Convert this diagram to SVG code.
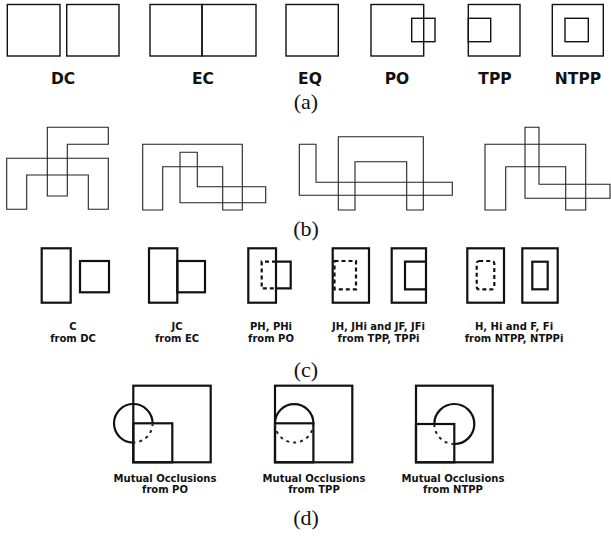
<svg xmlns="http://www.w3.org/2000/svg" width="611" height="538" viewBox="0 0 611 538">
<style>
.a{fill:none;stroke:#111;stroke-width:1.4}
.b{fill:none;stroke:#222;stroke-width:1.1}
.c{fill:none;stroke:#111;stroke-width:2.2}
.dc{fill:none;stroke:#111;stroke-width:2.2;stroke-dasharray:4 3}
.dd{fill:none;stroke:#222;stroke-width:2;stroke-dasharray:3 4}
.la{font-family:"DejaVu Sans",sans-serif;font-weight:bold;font-size:15.5px;fill:#111;text-anchor:middle}
.lc{font-family:"DejaVu Sans",sans-serif;font-weight:bold;font-size:10px;fill:#111;text-anchor:middle}
.cap{font-family:"Liberation Serif",serif;font-size:22px;fill:#111;text-anchor:middle}
</style>
<rect width="611" height="538" fill="#fff"/>
<g id="panel-a">
  <g id="a-DC"><rect class="a" x="7.3" y="4.5" width="52.7" height="51.5"/><rect class="a" x="66.7" y="4.5" width="52.3" height="51.5"/><text class="la" x="63" y="84">DC</text></g>
  <g id="a-EC"><rect class="a" x="150" y="4.5" width="52" height="51.5"/><rect class="a" x="202" y="4.5" width="54" height="51.5"/><text class="la" x="203" y="84">EC</text></g>
  <g id="a-EQ"><rect class="a" x="286" y="4.5" width="52.3" height="51.5"/><text class="la" x="310" y="84">EQ</text></g>
  <g id="a-PO"><rect class="a" x="371" y="4.5" width="52.7" height="51.5"/><rect class="a" x="411.7" y="18.3" width="23.3" height="23.4"/><text class="la" x="397" y="84">PO</text></g>
  <g id="a-TPP"><rect class="a" x="468.3" y="4.5" width="51.7" height="51.5"/><rect class="a" x="468.3" y="18.3" width="22.4" height="23.4"/><text class="la" x="495" y="84">TPP</text></g>
  <g id="a-NTPP"><rect class="a" x="552.3" y="4.5" width="51" height="51.5"/><rect class="a" x="565" y="18.3" width="23.3" height="23.4"/><text class="la" x="578" y="84">NTPP</text></g>
  <text class="cap" x="306" y="109">(a)</text>
</g>
<g id="panel-b">
  <g id="b1">
    <polygon class="b" points="6.7,158.3 108.3,158.3 108.3,209.3 88.3,209.3 88.3,175 26.7,175 26.7,209.3 6.7,209.3"/>
    <polygon class="b" points="47.3,127.3 108.3,127.3 108.3,144.3 67.3,144.3 67.3,196 47.3,196"/>
  </g>
  <g id="b2">
    <polygon class="b" points="142.7,144.3 242.3,144.3 242.3,210 222.7,210 222.7,166.7 162.7,166.7 162.7,210 142.7,210"/>
    <polygon class="b" points="180,152.3 197.3,152.3 197.3,186.7 265.7,186.7 265.7,202.7 180,202.7"/>
  </g>
  <g id="b3">
    <polygon class="b" points="338.3,136.7 423.3,136.7 423.3,210 406.7,210 406.7,161.7 355,161.7 355,210 338.3,210"/>
    <polygon class="b" points="299.3,144.3 316,144.3 316,182.3 452.3,182.3 452.3,195.3 299.3,195.3"/>
  </g>
  <g id="b4">
    <polygon class="b" points="485,144.3 585.7,144.3 585.7,210 565.7,210 565.7,166.7 505.7,166.7 505.7,210 485,210"/>
    <polygon class="b" points="525,127.3 539,127.3 539,184.3 610,184.3 610,198.3 525,198.3"/>
  </g>
  <text class="cap" x="306" y="236">(b)</text>
</g>
<g id="panel-c">
  <g id="c-C"><rect class="c" x="41.7" y="248.3" width="29" height="54.4"/><rect class="c" x="80" y="261" width="29" height="31.3"/>
    <text class="lc" x="73" y="330">C</text><text class="lc" x="73" y="342.3">from DC</text></g>
  <g id="c-JC"><rect class="c" x="149" y="248.3" width="28.3" height="54.4"/><rect class="c" x="177.3" y="261" width="27.7" height="31.3"/>
    <text class="lc" x="177" y="330">JC</text><text class="lc" x="177" y="342.3">from EC</text></g>
  <g id="c-PH"><rect class="c" x="248.3" y="248.3" width="27.7" height="54.4"/>
    <path class="c" d="M276,261.7 H290.7 V288.3 H276"/>
    <path class="dc" d="M276,261.7 H261.7 V288.3 H276"/>
    <text class="lc" x="271" y="330">PH, PHi</text><text class="lc" x="271" y="342.3">from PO</text></g>
  <g id="c-JH"><rect class="c" x="332.7" y="248.3" width="36.3" height="54.4"/>
    <rect class="dc" x="334.5" y="261" width="21.5" height="28.3"/></g>
  <g id="c-JF"><rect class="c" x="391.7" y="248.3" width="34.3" height="54.4"/>
    <path class="c" d="M426,261.7 H405 V289.3 H426"/></g>
  <text class="lc" x="378.5" y="330">JH, JHi and JF, JFi</text><text class="lc" x="378.5" y="342.3">from TPP, TPPi</text>
  <g id="c-H"><rect class="c" x="467.3" y="248.3" width="36.7" height="54.4"/>
    <rect class="dc" x="476.7" y="261" width="17.6" height="28.3" rx="2.5"/></g>
  <g id="c-F"><rect class="c" x="522.3" y="248.3" width="35.4" height="54.4"/>
    <rect class="c" x="532.3" y="261.7" width="15.4" height="27.6"/></g>
  <text class="lc" x="514" y="330">H, Hi and F, Fi</text><text class="lc" x="514" y="342.3">from NTPP, NTPPi</text>
  <text class="cap" x="306" y="377">(c)</text>
</g>
<g id="panel-d">
  <g id="d-PO"><rect class="c" x="133.3" y="385.7" width="77.4" height="76.6"/><rect class="c" x="133.3" y="423.3" width="39" height="39"/>
    <path class="c" d="M133.3,442.6 A19.3,19.3 0 1 1 152.6,423.3"/>
    <path class="dd" d="M152.6,423.3 A19.3,19.3 0 0 1 133.3,442.6"/>
    <text class="lc" x="165" y="481.7">Mutual Occlusions</text><text class="lc" x="165" y="493.3">from PO</text></g>
  <g id="d-TPP"><rect class="c" x="275" y="385.7" width="77.3" height="76.6"/><rect class="c" x="275" y="423.3" width="38.4" height="39"/>
    <path class="c" d="M275,423.3 A19.2,19.2 0 0 1 313.4,423.3"/>
    <path class="dd" d="M313.4,423.3 A19.2,19.2 0 0 1 275,423.3"/>
    <text class="lc" x="314" y="481.7">Mutual Occlusions</text><text class="lc" x="314" y="493.3">from TPP</text></g>
  <g id="d-NTPP"><rect class="c" x="416" y="385.7" width="76.7" height="76.6"/><rect class="c" x="416" y="424" width="38.3" height="38.3"/>
    <path class="c" d="M434.3,424 A20,20 0 1 1 454.3,444"/>
    <path class="dd" d="M454.3,444 A20,20 0 0 1 434.3,424"/>
    <text class="lc" x="453" y="481.7">Mutual Occlusions</text><text class="lc" x="453" y="493.3">from NTPP</text></g>
  <text class="cap" x="306" y="525">(d)</text>
</g>
</svg>
